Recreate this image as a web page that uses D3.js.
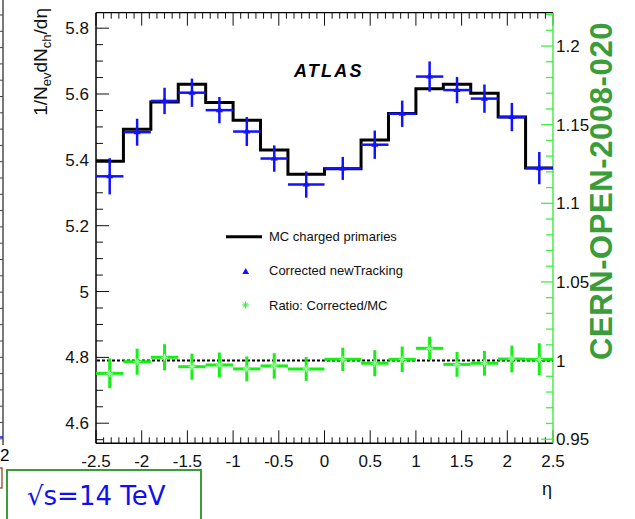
<!DOCTYPE html>
<html><head><meta charset="utf-8">
<script src="https://cdn.jsdelivr.net/npm/d3@7"></script>
<style>
html,body{margin:0;padding:0;background:#fff;}
svg{display:block;font-family:"Liberation Sans",Arial,sans-serif;}
</style></head>
<body><svg id="c" width="635" height="519"></svg>
<script>
// ---- data ----
const binEdges = [-2.5,-2.2,-1.9,-1.6,-1.3,-1.0,-0.7,-0.4,0,0.4,0.7,1.0,1.3,1.6,1.9,2.2,2.5];
const mcValues = [5.396,5.493,5.576,5.630,5.574,5.520,5.430,5.356,5.373,5.460,5.541,5.616,5.630,5.602,5.530,5.375];
const corrValues = [5.350,5.484,5.579,5.604,5.551,5.486,5.404,5.325,5.374,5.446,5.540,5.653,5.612,5.586,5.530,5.375];
const corrErrors = [0.055,0.041,0.040,0.043,0.040,0.044,0.040,0.040,0.035,0.043,0.040,0.046,0.040,0.043,0.043,0.049];
const ratioValues = [0.9919,0.9993,1.0021,0.9961,0.9972,0.9947,0.9966,0.9947,1.0008,0.9983,1.0008,1.0078,0.9976,0.9983,1.0010,1.0008];
const ratioErrors = [0.0095,0.0083,0.0083,0.0083,0.0079,0.0079,0.0081,0.0076,0.0074,0.0083,0.0081,0.0074,0.0079,0.0079,0.0085,0.0102];
const xTicks = [-2.5,-2,-1.5,-1,-0.5,0,0.5,1,1.5,2,2.5];
const yLeftTicks = [4.6,4.8,5,5.2,5.4,5.6,5.8];
const yRightTicks = [0.95,1,1.05,1.1,1.15,1.2];
const legendLabels = ["MC charged primaries","Corrected newTracking","Ratio: Corrected/MC"];

const svg = d3.select("#c");
const L = 96, R = 553, T = 12.7, B = 443.3;
const x = d3.scaleLinear().domain([-2.5,2.5]).range([L,R]);
const yL = d3.scaleLinear().domain([4.539,5.847]).range([B,T]);
const yR = d3.scaleLinear().domain([0.9474,1.2212]).range([B,T]);
const BLUE = "#1212ff", GREEN = "#14f014", AXG = "#44ee44", TXTG = "#3a9d3a";

// ---- left partial neighbour panel ----
const nb = svg.append("g");
nb.append("line").attr("x1",3).attr("x2",3).attr("y1",0).attr("y2",445).attr("stroke","#222").attr("stroke-width",1.2);
for (let yy = 15; yy < 440; yy += 16.3) nb.append("line").attr("x1",0).attr("x2",3).attr("y1",yy).attr("y2",yy).attr("stroke","#444");
nb.append("line").attr("x1",0).attr("x2",3).attr("y1",437).attr("y2",437).attr("stroke",BLUE).attr("stroke-width",1.5);
nb.append("text").attr("x",0).attr("y",461).attr("font-size",17).text("2");
nb.append("rect").attr("x",-3).attr("y",468).attr("width",5).attr("height",20).attr("fill","none").attr("stroke","#8a3a1a").attr("stroke-width",1.2);

// ---- frame ----
svg.append("line").attr("x1",L).attr("x2",R).attr("y1",T).attr("y2",T).attr("stroke","#000").attr("stroke-width",1.3);

// bottom & top axes
const xMinor = d3.range(-2.5, 2.5001, 0.5/6);
const gx = svg.append("g");
xMinor.forEach(v => {
  const isMaj = xTicks.some(t => Math.abs(t - v) < 1e-6);
  const len = isMaj ? 13 : 6;
  gx.append("line").attr("x1",x(v)).attr("x2",x(v)).attr("y1",B).attr("y2",B-len).attr("stroke","#111");
  gx.append("line").attr("x1",x(v)).attr("x2",x(v)).attr("y1",T).attr("y2",T+len).attr("stroke","#111");
});
gx.append("line").attr("x1",L).attr("x2",R).attr("y1",B).attr("y2",B).attr("stroke","#000").attr("stroke-width",1.5);
xTicks.forEach(t => gx.append("text").attr("x",x(t)).attr("y",467).attr("text-anchor","middle").attr("font-size",17).attr("fill","#111").text(t));
gx.append("text").attr("x",547).attr("y",495).attr("text-anchor","middle").attr("font-size",18).attr("fill","#111").text("η");

// left axis
const gl = svg.append("g");
d3.range(4.55, 5.8451, 0.05).forEach(v => {
  const isMaj = yLeftTicks.some(t => Math.abs(t - v) < 1e-6);
  gl.append("line").attr("x1",L).attr("x2",L+(isMaj?13:7)).attr("y1",yL(v)).attr("y2",yL(v)).attr("stroke","#111");
});
gl.append("line").attr("x1",L).attr("x2",L).attr("y1",T).attr("y2",B).attr("stroke","#000").attr("stroke-width",1.5);
yLeftTicks.forEach(t => gl.append("text").attr("x",89).attr("y",yL(t)+6).attr("text-anchor","end").attr("font-size",17).attr("fill","#111").text(t));
const yt = gl.append("text").attr("transform","translate(47,8) rotate(-90)").attr("text-anchor","end").attr("font-size",19).attr("fill","#111");
yt.append("tspan").text("1/N");
yt.append("tspan").attr("font-size",13).attr("dy",4).text("ev");
yt.append("tspan").attr("dy",-4).text("dN");
yt.append("tspan").attr("font-size",13).attr("dy",4).text("ch");
yt.append("tspan").attr("dy",-4).text("/dη");

// right axis (ratio)
const gr = svg.append("g");
d3.range(0.95, 1.2201, 0.01).forEach(v => {
  const isMaj = yRightTicks.some(t => Math.abs(t - v) < 1e-6);
  gr.append("line").attr("x1",R).attr("x2",R-(isMaj?12:7)).attr("y1",yR(v)).attr("y2",yR(v)).attr("stroke",AXG).attr("stroke-width",1.3);
});
gr.append("line").attr("x1",R).attr("x2",R).attr("y1",T).attr("y2",B).attr("stroke",AXG).attr("stroke-width",1.5);
yRightTicks.forEach(t => gr.append("text").attr("x",556).attr("y",yR(t)+6).attr("font-size",17).attr("fill","#111").text(t));

// ---- MC histogram (step) ----
const steps = [];
mcValues.forEach((v,i) => { steps.push([binEdges[i], v]); steps.push([binEdges[i+1], v]); });
svg.append("path").attr("d", d3.line().x(d => x(d[0])).y(d => yL(d[1]))(steps))
  .attr("fill","none").attr("stroke","#000").attr("stroke-width",3);

// ---- reference line ratio = 1 ----
svg.append("line").attr("x1",L+1).attr("x2",R).attr("y1",yR(1)).attr("y2",yR(1))
  .attr("stroke","#000").attr("stroke-width",2).attr("stroke-dasharray","3,2");

// ---- corrected points ----
const gc = svg.append("g");
corrValues.forEach((v,i) => {
  const xc = x((binEdges[i]+binEdges[i+1])/2);
  gc.append("line").attr("x1",x(binEdges[i])).attr("x2",x(binEdges[i+1])).attr("y1",yL(v)).attr("y2",yL(v)).attr("stroke",BLUE).attr("stroke-width",2.5);
  gc.append("line").attr("x1",xc).attr("x2",xc).attr("y1",yL(v-corrErrors[i])).attr("y2",yL(v+corrErrors[i])).attr("stroke",BLUE).attr("stroke-width",2.5);
  gc.append("path").attr("d",d3.symbol(d3.symbolTriangle,22)()).attr("transform",`translate(${xc},${yL(v)})`).attr("fill",BLUE);
});

// ---- ratio points ----
const star = (g, cx, cy, r, col) => {
  [0,45,90,135].forEach(a => {
    const rad = a*Math.PI/180;
    g.append("line").attr("x1",cx-r*Math.cos(rad)).attr("x2",cx+r*Math.cos(rad))
      .attr("y1",cy-r*Math.sin(rad)).attr("y2",cy+r*Math.sin(rad)).attr("stroke",col).attr("stroke-width",1);
  });
};
const gg = svg.append("g");
ratioValues.forEach((v,i) => {
  const xc = x((binEdges[i]+binEdges[i+1])/2);
  gg.append("line").attr("x1",x(binEdges[i])).attr("x2",x(binEdges[i+1])).attr("y1",yR(v)).attr("y2",yR(v)).attr("stroke",GREEN).attr("stroke-width",3);
  gg.append("line").attr("x1",xc).attr("x2",xc).attr("y1",yR(v-ratioErrors[i])).attr("y2",yR(v+ratioErrors[i])).attr("stroke",GREEN).attr("stroke-width",3);
  star(gg, xc, yR(v), 3.5, "#b4ffb4");
});

// ---- ATLAS label ----
svg.append("text").attr("x",294).attr("y",77).attr("font-size",18).attr("font-weight","bold").attr("font-style","italic")
  .attr("letter-spacing",2.2).attr("fill","#000").text("ATLAS");

// ---- legend ----
const lg = svg.append("g");
lg.append("line").attr("x1",226).attr("x2",262).attr("y1",236.7).attr("y2",236.7).attr("stroke","#000").attr("stroke-width",3);
lg.append("path").attr("d",d3.symbol(d3.symbolTriangle,20)()).attr("transform","translate(245.7,272)").attr("fill",BLUE);
star(lg, 245.5, 305, 3.5, "#33ee33");
[241, 275, 310].forEach((yy,i) => lg.append("text").attr("x",269).attr("y",yy).attr("font-size",13).attr("fill","#111").text(legendLabels[i]));

// ---- side label ----
svg.append("text").attr("transform","translate(612,191) rotate(-90)").attr("text-anchor","middle")
  .attr("font-size",31).attr("font-weight","bold").attr("letter-spacing",0.6).attr("fill",TXTG).text("CERN-OPEN-2008-020");

// ---- energy box ----
svg.append("rect").attr("x",7).attr("y",470).attr("width",194).attr("height",60).attr("fill","#fff").attr("stroke",TXTG).attr("stroke-width",2);
svg.append("text").attr("x",27).attr("y",505).attr("font-family","DejaVu Sans").attr("font-size",26).attr("fill","#1010ee").text("√s=14 TeV");
</script></body></html>
